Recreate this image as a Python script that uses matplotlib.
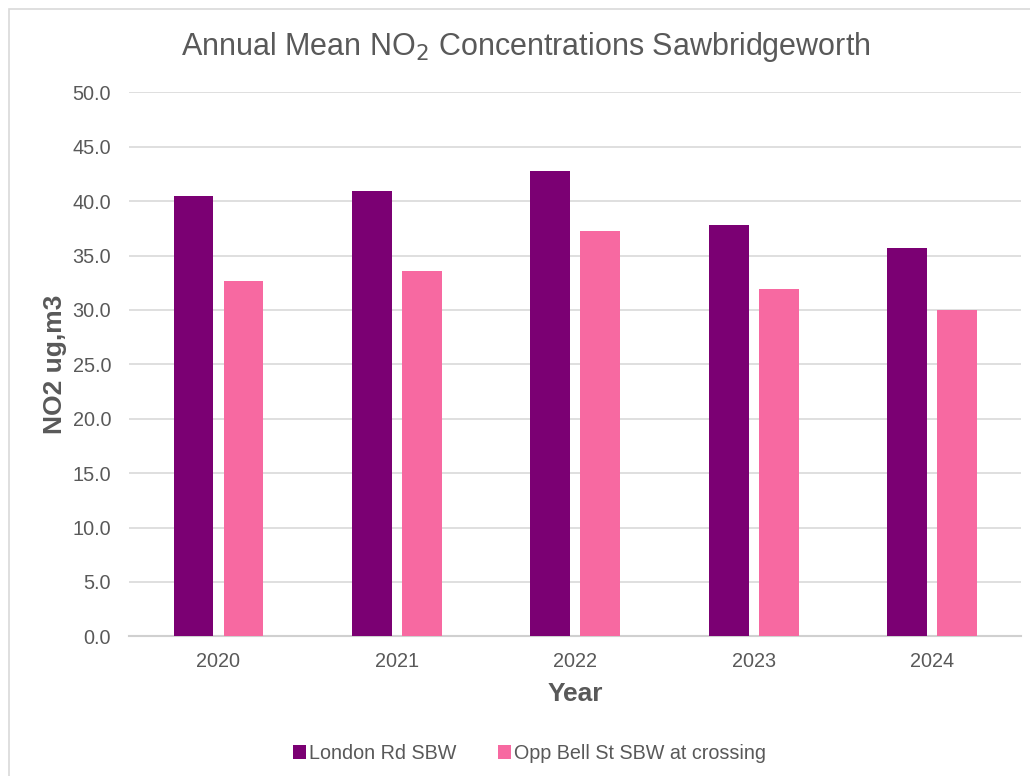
import matplotlib.pyplot as plt
import numpy as np
from matplotlib.patches import Rectangle

plt.rcParams['font.family'] = ['Liberation Sans', 'DejaVu Sans']

years = ['2020', '2021', '2022', '2023', '2024']
london_rd = [40.5, 40.9, 42.8, 37.8, 35.7]
opp_bell = [32.7, 33.6, 37.3, 31.9, 30.0]

series_names = ['London Rd SBW', 'Opp Bell St SBW at crossing']
couleurs = ['#7B0073', '#F769A1']
gris = '#595959'

fig = plt.figure(figsize=(10.3, 7.76), dpi=100)
# cadre gris autour du graphique
fig.patches.append(Rectangle((9 / 1030, -0.01), 1.02, 1 - 9 / 776 + 0.01, transform=fig.transFigure,
                             fill=False, edgecolor='#d9d9d9', linewidth=1.2))

ax = fig.add_axes([0.1255, 0.180, 0.866, 0.701])

x = np.arange(len(years))
largeur = 0.223
ax.bar(x - 0.14, london_rd, largeur, color=couleurs[0], label=series_names[0], zorder=3)
ax.bar(x + 0.14, opp_bell, largeur, color=couleurs[1], label=series_names[1], zorder=3)

ax.set_xlim(-0.5, len(years) - 0.5)
ax.set_ylim(0, 50)
ax.set_yticks(np.arange(0, 50.1, 5))
ax.set_yticklabels(['%.1f' % v for v in np.arange(0, 50.1, 5)])
ax.set_xticks(x)
ax.set_xticklabels(years)
ax.tick_params(axis='both', length=0, labelsize=14.3, labelcolor=gris)
ax.tick_params(axis='x', pad=11)
ax.tick_params(axis='y', pad=13)
ax.grid(axis='y', color='#d9d9d9', linewidth=1.2, zorder=0)
for s in ['top', 'right', 'left']:
    ax.spines[s].set_visible(False)
ax.spines['bottom'].set_color('#d0d0d0')
ax.spines['bottom'].set_linewidth(1.5)

ax.set_ylabel('NO2 ug,m3', fontsize=19, fontweight='bold', color=gris, labelpad=4)
ax.set_xlabel('Year', fontsize=19, fontweight='bold', color=gris, labelpad=8)
fig.text(0.51, 0.939, 'Annual Mean NO$_2$ Concentrations Sawbridgeworth', ha='center', va='center',
         fontsize=22, color=gris)

leg = fig.legend(loc='center', bbox_to_anchor=(0.514, 0.029), ncol=2, frameon=False,
                 fontsize=14.2, handlelength=0.66, handleheight=0.66, handletextpad=0.15,
                 columnspacing=2.1)
for t in leg.get_texts():
    t.set_color(gris)

plt.savefig('out.png', dpi=100)
